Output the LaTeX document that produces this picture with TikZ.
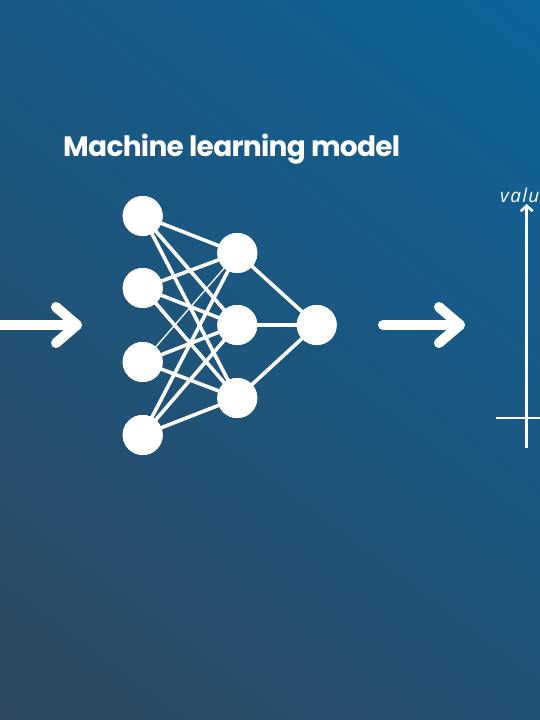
\documentclass[tikz,border=0pt]{standalone}
\usepackage{fontspec}
\setmainfont{Open Sans}
\newfontfamily\titlefont{Poppins}[LetterSpace=-2.5]
\newfontfamily\labelfont{Open Sans}[LetterSpace=7]
\usetikzlibrary{arrows.meta,calc}
\definecolor{bgdark}{RGB}{45,71,94}
\definecolor{bgblue}{RGB}{12,100,155}
\pgfdeclareverticalshading{bgshade}{100bp}{color(0bp)=(bgdark); color(15bp)=(bgdark); color(85bp)=(bgblue); color(100bp)=(bgblue)}
\tikzset{
  neuron/.style={circle, fill=white, draw=none, minimum size=40pt, inner sep=0pt},
  wire/.style={draw=white, line width=3.6pt},
  thinwire/.style={draw=white, line width=1.3pt},
  bigarrow/.style={draw=white, line width=10pt, line cap=round, line join=round},
  axisline/.style={draw=white, line width=2.6pt},
}
\begin{document}
\begin{tikzpicture}[x=1pt,y=-1pt]
\useasboundingbox (0,0) rectangle (540,720);
\clip (0,0) rectangle (540,720);
\shade[shading=bgshade, shading angle=-36.87] (0,0) rectangle (540,720);

% title
\node[anchor=base west, inner sep=0pt, text=white, font=\titlefont\bfseries\fontsize{28}{32}\selectfont] (title) at (63,156) {Machine learning model};

% neurons
\node[neuron] (i1) at (142.7,216) {};
\node[neuron] (i2) at (142.7,288) {};
\node[neuron] (i3) at (142.7,362) {};
\node[neuron] (i4) at (142.7,435) {};
\node[neuron] (h1) at (237.3,253) {};
\node[neuron] (h2) at (237.3,325) {};
\node[neuron] (h3) at (237.3,398) {};
\node[neuron] (o1) at (316.7,325) {};

\foreach \i in {1,2,4} {
  \foreach \h in {1,2,3} {
    \draw[wire] (i\i.center) -- (h\h.center);
  }
}
\draw[thinwire] (i3.center) -- (h1.center);
\draw[wire] (i3.center) -- (h2.center);
\draw[wire] (i3.center) -- (h3.center);
\foreach \h in {1,2,3} {
  \draw[wire] (h\h.center) -- (o1.center);
}
% redraw neurons on top
\foreach \n in {i1,i2,i3,i4,h1,h2,h3,o1} {
  \fill[white] (\n.center) circle (20pt);
}

% left arrow
\coordinate (la0) at (-10,325);
\coordinate (latip) at (77,325);
\draw[bigarrow] (la0) -- (latip);
\draw[bigarrow] ($(latip)+(-21,-18)$) -- (latip) -- ($(latip)+(-21,18)$);

% right arrow
\coordinate (ra0) at (383,325);
\coordinate (ratip) at (460,325);
\draw[bigarrow] (ra0) -- (ratip);
\draw[bigarrow] ($(ratip)+(-21,-18)$) -- (ratip) -- ($(ratip)+(-21,18)$);

% axes
\coordinate (ybot) at (526.7,448);
\coordinate (ytop) at (526.7,204);
\coordinate (xl) at (496,418);
\coordinate (xr) at (560,418);
\draw[axisline, -{Straight Barb[length=5pt,width=11pt,line cap=round]}] (ybot) -- (ytop);
\draw[axisline] (xl) -- (xr);
\node[anchor=base west, inner sep=0pt, text=white, font=\labelfont\itshape\fontsize{19}{22}\selectfont] (ylab) at (500,202) {value};
\end{tikzpicture}
\end{document}
